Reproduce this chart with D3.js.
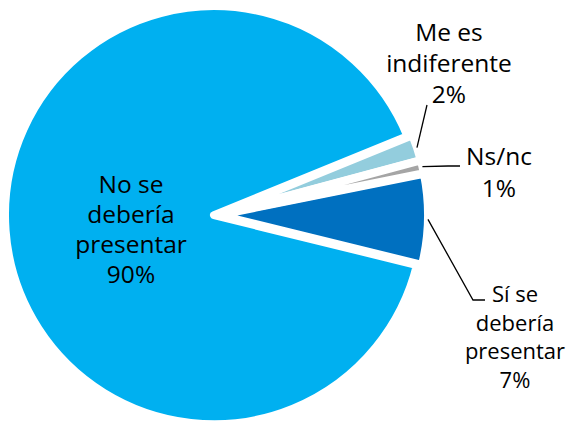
<!DOCTYPE html>
<html>
<head>
<meta charset="utf-8">
<script src="https://cdn.jsdelivr.net/npm/d3@7"></script>
<style>
  html, body { margin: 0; padding: 0; background: #fff; }
  svg { display: block; font-family: "Open Sans", sans-serif; }
</style>
</head>
<body>
<div id="chart"></div>
<script>
const categories = ["Sí se debería presentar", "No se debería presentar", "Me es indiferente", "Ns/nc"];
const values = [7, 90, 2, 1];
const labelLines = [["Sí se", "debería", "presentar"], ["No se", "debería", "presentar"], ["Me es", "indiferente"], ["Ns/nc"]];
const colors = ["#0070C0", "#00B0F0", "#93CDDD", "#A5A5A5"];

const width = 576;
const height = 421;
const cx = 216.5, cy = 215;
const radius = 209;
const explode = 2.5;

// label placement: x centre, first baseline, line step, font size, leader elbow points
const labelLayout = [
  { x: 515, y: 302, step: 28.5, size: 22, leader: [[473, 300], [485, 300]] },
  { x: 131, y: 193, step: 30, size: 24.5, leader: null },
  { x: 449, y: 41, step: 31, size: 24.5, leader: [[427, 105]] },
  { x: 499, y: 165, step: 31.5, size: 24.5, leader: [[448, 166], [460, 166]] }
];

const svg = d3.select("#chart")
  .append("svg")
  .attr("width", width)
  .attr("height", height);

const data = categories.map((c, i) => ({ name: c, value: values[i], index: i }));
const total = d3.sum(values);
const fmt = d3.format(".0%");

const start = 78.6 * Math.PI / 180;
const pie = d3.pie()
  .sort(null)
  .value(d => d.value)
  .startAngle(start)
  .endAngle(start + 2 * Math.PI);

const arc = d3.arc().innerRadius(0).outerRadius(radius);
const arcs = pie(data);

const offset = a => {
  const mid = (a.startAngle + a.endAngle) / 2;
  return [Math.sin(mid) * explode, -Math.cos(mid) * explode];
};

const g = svg.append("g").attr("transform", `translate(${cx},${cy})`);

g.selectAll("path.slice")
  .data(arcs)
  .join("path")
  .attr("class", "slice")
  .attr("transform", d => `translate(${offset(d)})`)
  .attr("d", arc)
  .attr("fill", d => colors[d.data.index])
  .attr("stroke", "#fff")
  .attr("stroke-width", 8)
  .attr("stroke-linejoin", "round");

// leader lines
arcs.forEach(a => {
  const lay = labelLayout[a.data.index];
  if (!lay.leader) return;
  const mid = (a.startAngle + a.endAngle) / 2;
  const [ox, oy] = offset(a);
  const p0 = [cx + ox + Math.sin(mid) * radius, cy + oy - Math.cos(mid) * radius];
  svg.append("path")
    .attr("d", d3.line()([p0, ...lay.leader]))
    .attr("fill", "none")
    .attr("stroke", "#000")
    .attr("stroke-width", 1.3);
});

// labels
arcs.forEach(a => {
  const i = a.data.index;
  const lay = labelLayout[i];
  const lines = labelLines[i].concat(fmt(a.data.value / total));
  const t = svg.append("text")
    .attr("text-anchor", "middle")
    .attr("font-size", lay.size)
    .attr("fill", "#000");
  lines.forEach((l, k) => {
    t.append("tspan")
      .attr("x", lay.x)
      .attr("y", lay.y + k * lay.step)
      .text(l);
  });
});
</script>
</body>
</html>
